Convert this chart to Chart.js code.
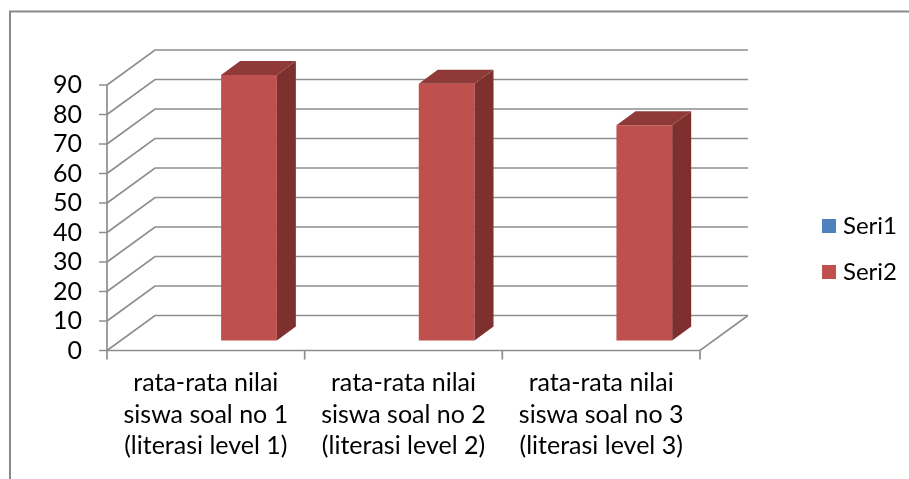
<!DOCTYPE html>
<html lang="id">
<head>
<meta charset="UTF-8">
<title>rata-rata nilai siswa</title>
<script src="https://cdn.jsdelivr.net/npm/chart.js"></script>
<style>
  html, body { margin: 0; padding: 0; background: #fff; }
  #wrap { width: 909px; height: 479px; }
</style>
</head>
<body>
<div id="wrap"><canvas id="chart"></canvas></div>
<script>
// data
const categories = [
    ['rata-rata nilai', 'siswa soal no 1', '(literasi level 1)'],
    ['rata-rata nilai', 'siswa soal no 2', '(literasi level 2)'],
    ['rata-rata nilai', 'siswa soal no 3', '(literasi level 3)']
];
const seriesNames = ['Seri1', 'Seri2'];
const seri1 = [null, null, null];   // empty series, only shows in the legend
const seri2 = [90, 87, 73];
const yMin = 0, yMax = 90, yStep = 10;

// look
const FONT = 'Lato';
const GRID = '#8e8e8e';
const COLORS = ['#4f81bd', '#c0504d'];
const SIDE = ['#385d8a', '#7d302e'];
const TOP = ['#4471a6', '#8f3a38'];

// fake 3d: back wall offset and the bar depth
const WALL_DX = 48, WALL_DY = 35;
const BAR_DX = 13.5, BAR_DY = 10;      // bar front face sits a bit into the box
const DEPTH_DX = 19, DEPTH_DY = 14;    // bar thickness

const box3d = {
    id: 'box3d',
    beforeDraw(chart) {
        const ctx = chart.ctx;
        ctx.save();
        ctx.strokeStyle = '#898989';
        ctx.lineWidth = 2;
        ctx.beginPath();
        ctx.moveTo(10, chart.height);
        ctx.lineTo(10, 11.5);
        ctx.lineTo(chart.width, 11.5);
        ctx.stroke();
        ctx.restore();
    },
    beforeDatasetsDraw(chart) {
        const { ctx, chartArea: a, scales: { x, y } } = chart;
        ctx.save();
        ctx.strokeStyle = GRID;
        ctx.lineWidth = 1.7;
        // side wall + back wall grid
        y.ticks.forEach(t => {
            const py = y.getPixelForValue(t.value);
            ctx.beginPath();
            ctx.moveTo(a.left, py);
            ctx.lineTo(a.left + WALL_DX, py - WALL_DY);
            ctx.lineTo(a.right + WALL_DX, py - WALL_DY);
            ctx.stroke();
        });
        // floor front and right edge
        ctx.beginPath();
        ctx.moveTo(a.left, a.bottom);
        ctx.lineTo(a.right, a.bottom);
        ctx.lineTo(a.right + WALL_DX, a.bottom - WALL_DY);
        ctx.stroke();
        // value axis with tick marks
        ctx.beginPath();
        ctx.moveTo(a.left, a.top);
        ctx.lineTo(a.left, a.bottom);
        y.ticks.forEach(t => {
            const py = y.getPixelForValue(t.value);
            ctx.moveTo(a.left - 8, py);
            ctx.lineTo(a.left, py);
        });
        // category tick marks on the boundaries
        const half = (x.getPixelForValue(1) - x.getPixelForValue(0)) / 2;
        for (let i = 0; i < categories.length; i++) {
            const px = x.getPixelForValue(i) - half;
            ctx.moveTo(px, a.bottom);
            ctx.lineTo(px, a.bottom + 9);
        }
        const last = x.getPixelForValue(categories.length - 1) + half;
        ctx.moveTo(last, a.bottom);
        ctx.lineTo(last, a.bottom + 9);
        ctx.stroke();
        ctx.restore();

        // bars get pushed back into the box
        ctx.save();
        ctx.translate(BAR_DX, -BAR_DY);
    },
    afterDatasetsDraw(chart) {
        const ctx = chart.ctx;
        chart.data.datasets.forEach((ds, i) => {
            const meta = chart.getDatasetMeta(i);
            meta.data.forEach((bar, j) => {
                if (ds.data[j] == null) return;
                const p = bar.getProps(['x', 'y', 'base', 'width'], true);
                const l = p.x - p.width / 2, r = p.x + p.width / 2;
                // right side
                ctx.fillStyle = SIDE[i];
                ctx.beginPath();
                ctx.moveTo(r, p.y);
                ctx.lineTo(r + DEPTH_DX, p.y - DEPTH_DY);
                ctx.lineTo(r + DEPTH_DX, p.base - DEPTH_DY);
                ctx.lineTo(r, p.base);
                ctx.closePath();
                ctx.fill();
                // top
                ctx.fillStyle = TOP[i];
                ctx.beginPath();
                ctx.moveTo(l, p.y);
                ctx.lineTo(l + DEPTH_DX, p.y - DEPTH_DY);
                ctx.lineTo(r + DEPTH_DX, p.y - DEPTH_DY);
                ctx.lineTo(r, p.y);
                ctx.closePath();
                ctx.fill();
            });
        });
        ctx.restore();
    },
    afterDraw(chart) {
        // legend on the right
        const ctx = chart.ctx;
        ctx.save();
        ctx.font = '24px ' + FONT;
        ctx.textBaseline = 'middle';
        chart.data.datasets.forEach((ds, i) => {
            const cy = 226 + i * 46;
            ctx.fillStyle = ds.backgroundColor;
            ctx.fillRect(822, cy - 7, 14, 14);
            ctx.fillStyle = '#000';
            ctx.fillText(ds.label, 843, cy);
        });
        ctx.restore();
    }
};

Chart.defaults.font.family = FONT;
Chart.defaults.font.size = 25;
Chart.defaults.color = '#000';

new Chart(document.getElementById('chart'), {
    type: 'bar',
    data: {
        labels: categories,
        datasets: [
            { label: seriesNames[0], data: seri1, backgroundColor: COLORS[0] },
            { label: seriesNames[1], data: seri2, backgroundColor: COLORS[1] }
        ]
    },
    options: {
        responsive: true,
        maintainAspectRatio: false,
        animation: false,
        categoryPercentage: 0.6,
        barPercentage: 0.94,
        clip: false,
        layout: { padding: { left: 28, right: 209, top: 85, bottom: 0 } },
        plugins: {
            legend: { display: false },
            tooltip: { enabled: false }
        },
        scales: {
            x: {
                grid: { display: false, drawTicks: false },
                border: { display: false },
                ticks: { padding: 17, maxRotation: 0, autoSkip: false, font: { size: 25, lineHeight: 1.26 } }
            },
            y: {
                min: yMin,
                max: yMax,
                grid: { display: false, drawTicks: false },
                border: { display: false },
                ticks: { stepSize: yStep, padding: 25, autoSkip: false, font: { size: 25 } }
            }
        }
    },
    plugins: [box3d]
});
</script>
</body>
</html>
